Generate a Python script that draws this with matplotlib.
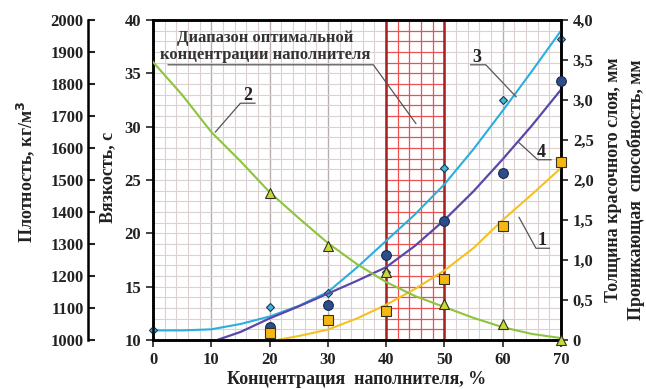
import numpy as np
import matplotlib
matplotlib.use("Agg")
import matplotlib.pyplot as plt

plt.rcParams["font.family"] = ["Liberation Serif", "DejaVu Serif"]
plt.rcParams["font.weight"] = "bold"

# curves
x_dens = [0, 5, 10, 15, 20, 25, 30, 35, 40, 45, 50, 55, 60, 65, 70]
dens_curve = [1869, 1766, 1650, 1559, 1462, 1381, 1303, 1237, 1181, 1137, 1103, 1069, 1040, 1019, 1006]

x_visc = [0, 5, 10, 15, 20, 25, 30, 35, 40, 45, 50, 55, 60, 65, 70]
visc_curve = [10.9, 10.9, 11.0, 11.5, 12.2, 13.2, 14.5, 16.8, 19.3, 21.8, 24.6, 27.9, 31.5, 35.2, 39.0]

x_pen = [11, 15, 20, 25, 30, 35, 40, 45, 50, 55, 60, 65, 70]
pen_curve = [0.0, 0.10, 0.27, 0.42, 0.58, 0.74, 0.91, 1.18, 1.50, 1.86, 2.26, 2.68, 3.13]

x_thick = [21.3, 25, 30, 35, 40, 45, 50, 55, 60, 65, 70]
thick_curve = [0.0, 0.05, 0.13, 0.27, 0.44, 0.64, 0.87, 1.15, 1.50, 1.82, 2.15]

# measured points
x_pts = [20, 30, 40, 50, 60, 70]
visc_x = [0, 20, 30, 40, 50, 60, 70]
visc_pts = [10.9, 13.1, 14.4, 16.4, 26.1, 32.5, 38.2]
pen_pts = [0.16, 0.44, 1.06, 1.49, 2.09, 3.24]
thick_pts = [0.09, 0.25, 0.36, 0.76, 1.43, 2.23]
dens_pts = [1459, 1294, 1212, 1112, 1050, 1000]

opt_range = (40, 50)

fig = plt.figure(figsize=(6.46, 3.89), dpi=100)
ax = fig.add_axes([153/646, 1-340/389, 408/646, 320/389])

ax.set_xlim(0, 70)
ax.set_ylim(10, 40)
ax.set_xticks(range(0, 71, 10))
ax.set_xticks(range(0, 71, 2), minor=True)
ax.set_yticks(range(10, 41, 5))
ax.set_yticks(range(10, 41, 1), minor=True)
ax.set_axisbelow(True)
ax.grid(which="minor", color="#dcd0d0", lw=0.8)
ax.grid(which="major", axis="x", color="#b8aeae", lw=1.0)
ax.grid(which="major", axis="y", color="#dcd0d0", lw=0.8)

# optimum range: red grid
ax.axvspan(*opt_range, color="white", zorder=0.8)
ax.vlines(np.arange(opt_range[0], opt_range[1] + 1, 2), 10, 40, color="#ee5050", lw=0.9, zorder=0.9)
ax.hlines(np.arange(10, 41, 1), opt_range[0], opt_range[1], color="#ee5050", lw=0.9, zorder=0.9)
ax.vlines(list(opt_range), 10, 40, color="#a82020", lw=1.8, zorder=0.95)

ax.plot(x_visc, visc_curve, color="#2aaee0", lw=1.5, zorder=3)
ax.plot(visc_x, visc_pts, "D", ms=4.5, mfc="#3cb8d8", mec="#1f3550", mew=0.8, clip_on=False, zorder=6)

ax_r = ax.twinx()
ax_r.set_ylim(0, 4)
ax_r.plot(x_pen, pen_curve, color="#5a48a8", lw=1.6)
ax_r.plot(x_thick, thick_curve, color="#f5c020", lw=1.5)
ax_r.plot(x_pts, pen_pts, "o", ms=7, mfc="#2c4c8c", mec="#1a2a48", mew=0.8, clip_on=False, zorder=5)
ax_r.plot(x_pts, thick_pts, "s", ms=6.5, mfc="#f5b810", mec="#3a3020", mew=0.8, clip_on=False, zorder=5)
ax_r.set_yticks(np.arange(0, 4.01, 0.5))
ax_r.set_yticklabels(["0", "0,5", "1,0", "1,5", "2,0", "2,5", "3,0", "3,5", "4,0"])

ax_d = ax.twinx()
ax_d.set_ylim(1000, 2000)
ax_d.plot(x_dens, dens_curve, color="#8cc43c", lw=1.5)
ax_d.plot(x_pts, dens_pts, "^", ms=7, mfc="#c8d838", mec="#303020", mew=0.8, clip_on=False, zorder=5)
ax_d.spines["right"].set_visible(False)
ax_d.spines["left"].set_visible(True)
ax_d.spines["left"].set_position(("axes", (88 - 153) / 408))
ax_d.spines["left"].set_linewidth(1.8)
ax_d.yaxis.set_ticks_position("left")
ax_d.yaxis.set_label_position("left")
ax_d.set_yticks(range(1000, 2001, 100))
ax_d.tick_params(axis="y", direction="in", length=5, width=1.5, pad=3, labelsize=12, colors="#222222")

for a in (ax, ax_r):
    for s in a.spines.values():
        s.set_linewidth(1.8)
ax.tick_params(axis="both", which="major", length=5, width=1.2, labelsize=12, colors="#222222")
ax.tick_params(axis="both", which="minor", length=0)
ax.tick_params(axis="x", pad=4)
ax_r.tick_params(axis="y", length=5, width=1.2, labelsize=12, colors="#222222")

# labels
txt = dict(fontsize=13, fontweight="bold", color="#222222")
fig.text(26/646, 1-172/389, "Плотность, кг/м$^\\mathbf{3}$", rotation=90, ha="center", va="center", **txt)
fig.text(108/646, 1-177/389, "Вязкость, с", rotation=90, ha="center", va="center", **txt)
fig.text(614/646, 1-180/389, "Толщина красочного слоя, мм", rotation=90, ha="center", va="center", **txt)
fig.text(636/646, 1-190/389, "Проникающая  способность, мм", rotation=90, ha="center", va="center", **txt)
fig.text(357/646, 1-380/389, "Концентрация  наполнителя, %", ha="center", va="center", **txt)

# annotations
lead = dict(color="#555555", lw=0.9, zorder=7)
ax.text(19.3, 37.5, "Диапазон оптимальной\nконцентрации наполнителя", ha="center", va="center",
        fontsize=12, fontweight="bold", color="#333333", linespacing=1.05, zorder=8)
ax.plot([2.6, 37.8, 45.1], [35.8, 35.8, 30.3], **lead)

ax.text(16.3, 32.9, "2", ha="center", va="center", fontsize=13, fontweight="bold", color="#222222", zorder=8)
ax.plot([17.5, 15.0, 10.7], [32.2, 32.2, 29.5], **lead)

ax.text(55.6, 36.5, "3", ha="center", va="center", fontsize=13, fontweight="bold", color="#222222", zorder=8)
ax.plot([54.5, 57.1, 62.3], [35.8, 35.8, 32.8], **lead)

ax.text(66.6, 27.6, "4", ha="center", va="center", fontsize=13, fontweight="bold", color="#222222", zorder=8)
ax.plot([68.3, 66.0, 62.8], [26.9, 26.9, 28.5], **lead)

ax.text(66.8, 19.3, "1", ha="center", va="center", fontsize=13, fontweight="bold", color="#222222", zorder=8)
ax.plot([68.0, 65.7, 62.8], [18.6, 18.6, 21.5], **lead)

fig.savefig("out.png", dpi=100)
